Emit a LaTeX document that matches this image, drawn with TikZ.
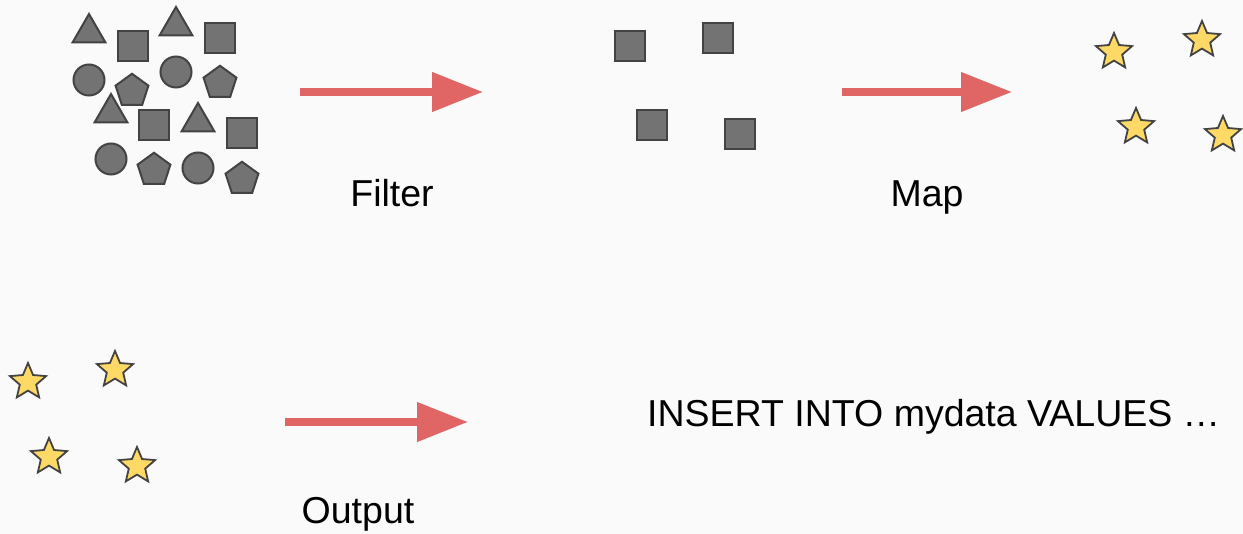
\documentclass[tikz,border=0pt]{standalone}
\usepackage{fontspec}
\setmainfont{Liberation Sans}
\usetikzlibrary{shapes.geometric,arrows.meta}
\definecolor{bgc}{HTML}{FAFAFA}
\definecolor{shapefill}{HTML}{737373}
\definecolor{edge}{HTML}{434343}
\definecolor{starfill}{HTML}{FFD966}
\definecolor{flow}{HTML}{E06666}
\begin{document}
\begin{tikzpicture}[x=1pt,y=-1pt,
  piece/.style={draw=edge, fill=shapefill, line width=2pt, inner sep=0pt, outer sep=0pt},
  sq/.style={piece, rectangle, minimum size=30pt},
  tri/.style={piece, regular polygon, regular polygon sides=3, minimum size=38pt},
  pent/.style={piece, regular polygon, regular polygon sides=5, minimum size=34.5pt},
  disc/.style={piece, circle, minimum size=31pt},
  starnode/.style={draw=edge, fill=starfill, line width=1.8pt, star, star points=5,
    star point ratio=2.2, minimum size=38pt, inner sep=0pt, outer sep=0pt},
  flowarrow/.style={draw=flow, line width=7.5pt, -{Triangle[length=51pt,width=38pt]}},
  nametext/.style={font=\fontsize{37.5}{44}\selectfont, inner sep=0pt}
]
\fill[bgc] (0,0) rectangle (1243,534);
\useasboundingbox (0,0) rectangle (1243,534);

% mixed input collection
\node[tri]  (t1) at (89,33) {};
\node[sq]   (q1) at (133,46) {};
\node[tri]  (t2) at (176,26) {};
\node[sq]   (q2) at (220,38) {};
\node[disc] (c1) at (89,80) {};
\node[pent] (p1) at (132,91) {};
\node[disc] (c2) at (176,72) {};
\node[pent] (p2) at (220,83) {};
\node[tri]  (t3) at (111,113) {};
\node[sq]   (q3) at (154,125) {};
\node[tri]  (t4) at (198,122) {};
\node[sq]   (q4) at (242,133) {};
\node[disc] (c3) at (111,159) {};
\node[pent] (p3) at (154,170) {};
\node[disc] (c4) at (198,168) {};
\node[pent] (p4) at (242,179) {};

% filtered squares
\node[sq] (fq1) at (630,46) {};
\node[sq] (fq2) at (718,38) {};
\node[sq] (fq3) at (652,125) {};
\node[sq] (fq4) at (740,134) {};

% mapped stars
\node[starnode] (ms1) at (1114,52) {};
\node[starnode] (ms2) at (1202,40) {};
\node[starnode] (ms3) at (1136,127) {};
\node[starnode] (ms4) at (1223,135) {};

% output stars
\node[starnode] (os1) at (28,382) {};
\node[starnode] (os2) at (115,370) {};
\node[starnode] (os3) at (49,457) {};
\node[starnode] (os4) at (137,466) {};

% arrows
\coordinate (fs) at (300,92);
\coordinate (fe) at (483,92);
\coordinate (ms) at (842,92);
\coordinate (me) at (1012,92);
\coordinate (os) at (285,422);
\coordinate (oe) at (468,422);
\draw[flowarrow] (fs) -- (fe);
\draw[flowarrow] (ms) -- (me);
\draw[flowarrow] (os) -- (oe);

% captions
\node[nametext, anchor=base] (filter) at (392,207) {Filter};
\node[nametext, anchor=base] (map) at (927,207) {Map};
\node[nametext, anchor=base] (output) at (358,523) {Output};
\node[nametext, anchor=base west] (sql) at (647,427) {INSERT INTO mydata VALUES …};
\end{tikzpicture}
\end{document}
